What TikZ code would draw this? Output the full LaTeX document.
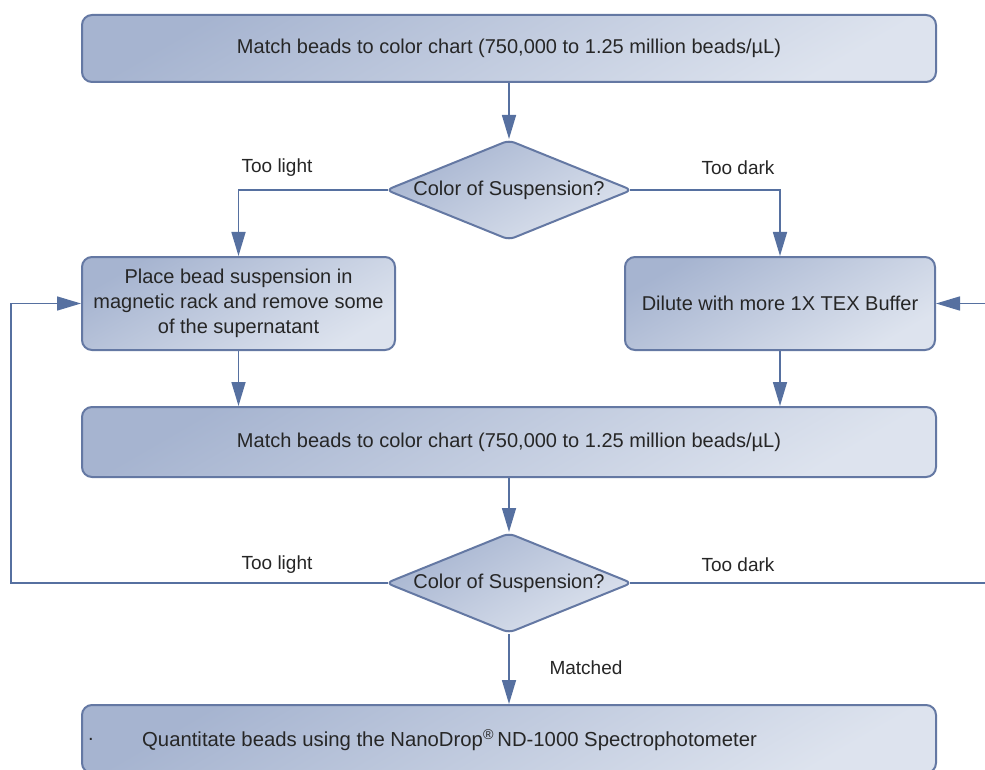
\documentclass[tikz,border=0pt]{standalone}
\usepackage{fontspec}
\setmainfont{Liberation Sans}
\usetikzlibrary{shapes.geometric,arrows.meta}
\definecolor{edgec}{HTML}{6478A3}
\definecolor{linec}{HTML}{5670A0}
\definecolor{shadeA}{HTML}{A6B4D0}
\definecolor{shadeB}{HTML}{DDE3EE}
\definecolor{txt}{HTML}{262626}
\begin{document}
\begin{tikzpicture}[x=1pt,y=-1pt,
  box/.style={draw=edgec, line width=2pt, rounded corners=10pt,
    top color=shadeA, bottom color=shadeB, shading angle=30,
    inner sep=0pt, text=txt, font=\fontsize{20}{25}\selectfont, align=center},
  dia/.style={shape=diamond, draw=edgec, line width=2pt, rounded corners=6pt,
    top color=shadeA, bottom color=shadeB, shading angle=30,
    aspect=2.46, inner sep=0pt, minimum width=246pt, minimum height=100pt,
    text=txt, font=\fontsize{20}{25}\selectfont},
  arr/.style={draw=linec, line width=1.6pt, -{Triangle[length=24pt,width=14pt]}},
  ln/.style={draw=linec, line width=1.6pt},
  lbl/.style={text=txt, font=\fontsize{19}{22}\selectfont, inner sep=0pt}]
\useasboundingbox (0,0) rectangle (985,770);
\clip (0,0) rectangle (985,770);
\fill[white] (0,0) rectangle (985,770);

\node[box, minimum width=854pt, minimum height=67pt] (top) at (509,48.5)
  {Match beads to color chart (750,000 to 1.25 million beads/µL)};
\node[dia] (d1) at (509,190) {Color of Suspension?};
\node[box, minimum width=313pt, minimum height=93pt] (L) at (238.5,303.5)
  {Place bead suspension in\\magnetic rack and remove some\\of the supernatant};
\node[box, minimum width=310pt, minimum height=93pt] (R) at (780,303.5)
  {Dilute with more 1X TEX Buffer};
\node[box, minimum width=854pt, minimum height=70pt] (mid) at (509,442)
  {Match beads to color chart (750,000 to 1.25 million beads/µL)};
\node[dia] (d2) at (509,583) {Color of Suspension?};
\node[box, minimum width=854pt, minimum height=68pt] (bot) at (509,739) {};
\node[lbl, anchor=west, font=\fontsize{20.3}{25}\selectfont] (bottxt) at (142,740)
  {Quantitate beads using the NanoDrop\textsuperscript{®}\,ND-1000 Spectrophotometer};
\node[lbl, font=\fontsize{20}{24}\selectfont] (dot) at (91,739) {.};

\coordinate (lc) at (11,583);
\coordinate (rc) at (992,583);
\coordinate (rc2) at (992,303.5);

\draw[arr] (top) -- (d1);
\draw[arr] ([xshift=3pt]d1.west) -| (L.north);
\draw[arr] ([xshift=-3pt]d1.east) -| (R.north);
\draw[arr] (L.south) -- (L.south |- mid.north);
\draw[arr] (R.south) -- (R.south |- mid.north);
\draw[arr] (mid) -- (d2);
\draw[arr] (d2) -- (bot);
\draw[arr] ([xshift=3pt]d2.west) -- (lc) |- (L.west);
\draw[ln] ([xshift=-3pt]d2.east) -- (rc) -- (rc2);
\draw[arr] (rc2) -- (R.east);

\node[lbl] (tl1) at (277,168) {Too light};
\node[lbl] (td1) at (738,168) {Too dark};
\node[lbl] (tl2) at (277,565) {Too light};
\node[lbl] (td2) at (738,565) {Too dark};
\node[lbl] (mt) at (586,668) {Matched};
\end{tikzpicture}
\end{document}
